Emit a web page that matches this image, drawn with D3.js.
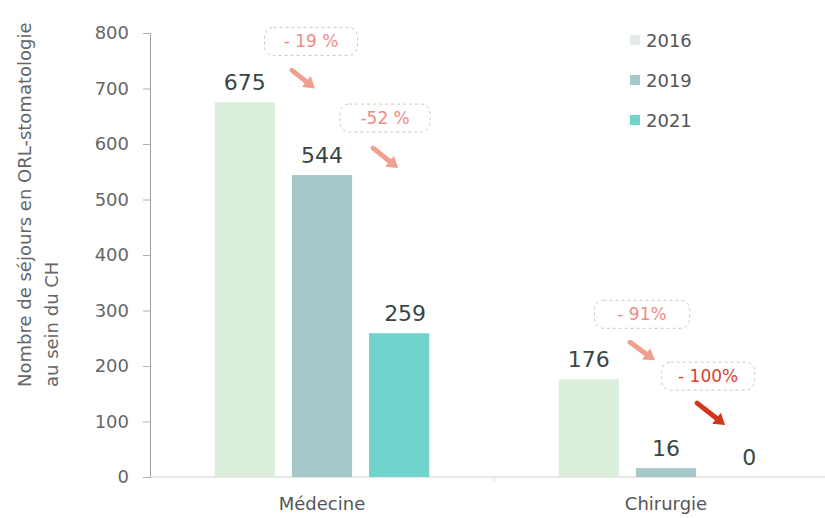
<!DOCTYPE html>
<html>
<head>
<meta charset="utf-8">
<script src="https://cdn.jsdelivr.net/npm/d3@7"></script>
<style>
body { margin: 0; background: #fff; }
svg { font-family: "DejaVu Sans", sans-serif; }
</style>
</head>
<body>
<div id="chart"></div>
<script>
var w = 825, h = 518;

// data
var categories = ["Médecine", "Chirurgie"];
var years = ["2016", "2019", "2021"];
var values2016 = [675, 176];
var values2019 = [544, 16];
var values2021 = [259, 0];
var yTicks = [0, 100, 200, 300, 400, 500, 600, 700, 800];
var changeLabels = ["- 19 %", "-52 %", "- 91%", "- 100%"];
var changeFrom = [[0, 0], [0, 1], [1, 0], [1, 1]]; // [category, year index]

var colors = ["#dcefdc", "#a6c8c9", "#70d3cc"];
var series = [values2016, values2019, values2021];

var svg = d3.select("#chart")
  .append("svg")
  .attr("width", w)
  .attr("height", h);

var x0 = d3.scaleBand().domain(categories).range([150, 838]).padding(0);
var x1 = d3.scaleBand().domain(years).range([0, x0.bandwidth()])
  .paddingInner(0.22).paddingOuter(0.84);
var y = d3.scaleLinear().domain([0, 800]).range([477, 33]);

// y axis
var yAxis = svg.append("g")
  .attr("transform", "translate(150,0)")
  .call(d3.axisLeft(y).tickValues(yTicks).tickSize(7).tickPadding(14));
yAxis.select(".domain").attr("stroke", "#a0a0a0");
yAxis.selectAll(".tick line").attr("stroke", "#b0b0b0");
yAxis.selectAll("text")
  .attr("fill", "#666")
  .style("font-size", "18px")
  .style("font-family", "DejaVu Sans");

// baseline
svg.append("line")
  .attr("x1", 150).attr("x2", w)
  .attr("y1", y(0)).attr("y2", y(0))
  .attr("stroke", "#d0d0d0");
svg.selectAll(".sep")
  .data(categories.slice(1))
  .enter().append("line")
  .attr("x1", function(d) { return x0(d); })
  .attr("x2", function(d) { return x0(d); })
  .attr("y1", y(0)).attr("y2", y(0) + 5)
  .attr("stroke", "#e0e0e0");

// y title
var yTitle = svg.append("text")
  .attr("transform", "translate(31,387) rotate(-90)")
  .attr("fill", "#666")
  .style("font-size", "18px");
yTitle.append("tspan").attr("x", 0).attr("y", 0).text("Nombre de séjours en ORL-stomatologie");
yTitle.append("tspan").attr("x", 0).attr("y", 27).text("au sein du CH");

// bars
var rows = [];
categories.forEach(function(c, ci) {
  years.forEach(function(yr, yi) {
    rows.push({cat: c, year: yr, yi: yi, value: series[yi][ci]});
  });
});

svg.selectAll("rect.bar")
  .data(rows)
  .enter()
  .append("rect")
  .attr("class", "bar")
  .attr("x", function(d) { return x0(d.cat) + x1(d.year); })
  .attr("y", function(d) { return y(d.value); })
  .attr("width", x1.bandwidth())
  .attr("height", function(d) { return y(0) - y(d.value); })
  .style("fill", function(d) { return colors[d.yi]; });

svg.selectAll("text.val")
  .data(rows)
  .enter()
  .append("text")
  .attr("class", "val")
  .attr("x", function(d) { return x0(d.cat) + x1(d.year) + x1.bandwidth() / 2 + (d.yi === 2 ? 6 : 0); })
  .attr("y", function(d) { return y(d.value) - 12; })
  .attr("text-anchor", "middle")
  .attr("fill", "#3a4646")
  .style("font-size", "22px")
  .text(function(d) { return d.value; });

// category labels
svg.selectAll("text.cat")
  .data(categories)
  .enter()
  .append("text")
  .attr("class", "cat")
  .attr("x", function(d) { return x0(d) + x0.bandwidth() / 2; })
  .attr("y", 510)
  .attr("text-anchor", "middle")
  .attr("fill", "#555")
  .style("font-size", "18px")
  .text(function(d) { return d; });

// legend
var legend = svg.selectAll("g.leg")
  .data(years)
  .enter()
  .append("g")
  .attr("class", "leg")
  .attr("transform", function(d, i) { return "translate(630," + (40 + i * 40) + ")"; });
legend.append("rect")
  .attr("x", 0).attr("y", -5)
  .attr("width", 10).attr("height", 10)
  .style("fill", function(d, i) { return i === 0 ? "#e4ece6" : colors[i]; });
legend.append("text")
  .attr("x", 16).attr("y", 7)
  .attr("fill", "#555")
  .style("font-size", "18px")
  .text(function(d) { return d; });

// change annotations: offsets relative to the next bar centre / top of the previous bar
var annLayout = [
  {bx: -11, by: -61, bw: 93, ax0: -30, ay0: -32, ax1: -7, ay1: -14, color: "#ee8c86", arrow: "#f0a08e"},
  {bx: -14, by: -57, bw: 90, ax0: -26, ay0: -27, ax1: -1, ay1: -7, color: "#ee8c86", arrow: "#f0a08e"},
  {bx: -24, by: -65, bw: 95, ax0: -36, ay0: -37, ax1: -11, ay1: -19, color: "#ee8c86", arrow: "#f0a08e"},
  {bx: -35, by: -92, bw: 93, ax0: -46, ay0: -65, ax1: -18, ay1: -43, color: "#d8432e", arrow: "#d3361c"}
];

changeLabels.forEach(function(lbl, i) {
  var cat = categories[changeFrom[i][0]];
  var yi = changeFrom[i][1];
  var cx = x0(cat) + x1(years[yi + 1]) + x1.bandwidth() / 2;
  var cy = y(series[yi][changeFrom[i][0]]);
  var L = annLayout[i];
  var g = svg.append("g");
  g.append("rect")
    .attr("x", cx + L.bx - L.bw / 2)
    .attr("y", cy + L.by - 14)
    .attr("width", L.bw).attr("height", 28)
    .attr("rx", 9)
    .attr("fill", "none")
    .attr("stroke", "#c8c8c8")
    .attr("stroke-dasharray", "3,3");
  g.append("text")
    .attr("x", cx + L.bx)
    .attr("y", cy + L.by + 6)
    .attr("text-anchor", "middle")
    .attr("fill", L.color)
    .style("font-size", "17px")
    .text(lbl);

  // arrow
  var sx = cx + L.ax0, sy = cy + L.ay0, ex = cx + L.ax1, ey = cy + L.ay1;
  var ang = Math.atan2(ey - sy, ex - sx);
  var hl = 11, hw = 7;
  var bxp = ex - hl * Math.cos(ang), byp = ey - hl * Math.sin(ang);
  var px = -Math.sin(ang), py = Math.cos(ang);
  g.append("line")
    .attr("x1", sx).attr("y1", sy).attr("x2", bxp).attr("y2", byp)
    .attr("stroke", L.arrow).attr("stroke-width", 5).attr("stroke-linecap", "round");
  g.append("path")
    .attr("d", "M" + ex + "," + ey +
      "L" + (bxp + px * hw) + "," + (byp + py * hw) +
      "L" + (bxp - px * hw) + "," + (byp - py * hw) + "Z")
    .attr("fill", L.arrow);
});
</script>
</body>
</html>
